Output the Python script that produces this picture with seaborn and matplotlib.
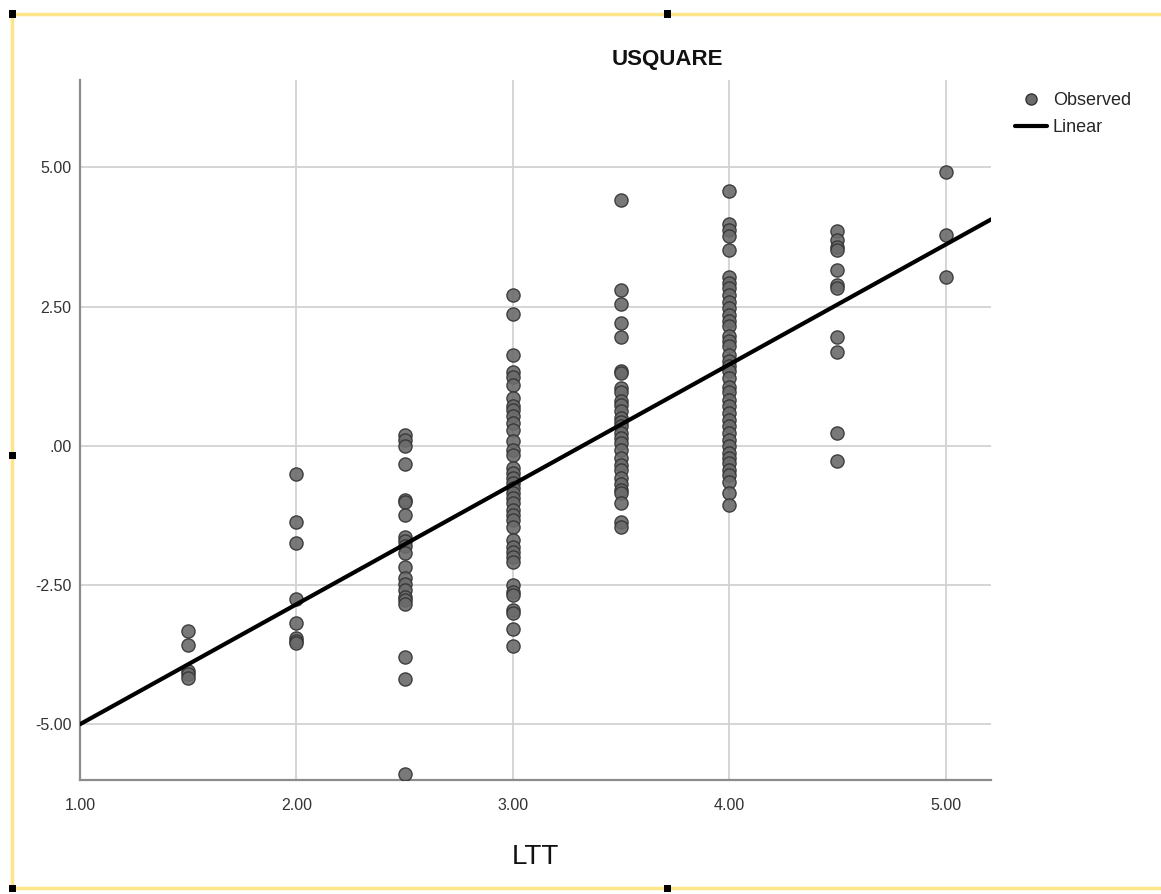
""" Recreate SPSS-style curve fit scatter: USQUARE vs LTT """

import numpy as np
import pandas as pd
import seaborn as sns
import matplotlib.pyplot as plt
from matplotlib.lines import Line2D
from matplotlib.patches import Rectangle

# Data (one list per LTT level)
ltt_levels = [1.5, 2.0, 2.5, 3.0, 3.5, 4.0, 4.5, 5.0]
usquare_by_level = [
    [-3.32, -3.57, -4.05, -4.09, -4.17],
    [-0.51, -1.36, -1.75, -2.75, -3.18, -3.45, -3.50, -3.54],
    [0.20, 0.10, 0.00, -0.33, -0.97, -1.00, -1.24, -1.63, -1.70, -1.79,
     -1.92, -2.17, -2.37, -2.48, -2.58, -2.71, -2.77, -2.84, -3.79, -4.19, -5.89],
    [2.71, 2.36, 1.63, 1.33, 1.24, 1.09, 0.86, 0.71, 0.65, 0.53, 0.41, 0.29,
     0.08, -0.07, -0.16, -0.40, -0.49, -0.58, -0.67, -0.76, -0.85, -0.94,
     -1.03, -1.15, -1.24, -1.33, -1.45, -1.69, -1.81, -1.90, -1.99, -2.08,
     -2.50, -2.62, -2.68, -2.94, -3.00, -3.29, -3.59],
    [4.42, 2.80, 2.55, 2.20, 1.96, 1.35, 1.30, 1.04, 0.97, 0.80, 0.74, 0.62,
     0.50, 0.42, 0.35, 0.24, 0.15, 0.05, -0.07, -0.22, -0.34, -0.43, -0.58,
     -0.69, -0.79, -0.85, -1.03, -1.37, -1.45],
    [4.58, 3.99, 3.88, 3.77, 3.52, 3.03, 2.92, 2.83, 2.71, 2.59, 2.47, 2.35,
     2.24, 2.15, 1.97, 1.88, 1.79, 1.64, 1.52, 1.43, 1.34, 1.22, 1.06, 0.97,
     0.83, 0.71, 0.59, 0.47, 0.35, 0.23, 0.11, -0.01, -0.13, -0.22, -0.31,
     -0.43, -0.52, -0.64, -0.85, -1.06],
    [3.85, 3.70, 3.58, 3.52, 3.16, 2.89, 2.83, 1.96, 1.69, 0.23, -0.28],
    [4.91, 3.79, 3.03],
]
x_ticks = [1.0, 2.0, 3.0, 4.0, 5.0]
y_ticks = [-5.0, -2.5, 0.0, 2.5, 5.0]


def fmt(v):
    """ SPSS style number: .00 instead of 0.00 """
    s = f"{v:.2f}"
    return ".00" if s in ("0.00", "-0.00") else s


def plot(df):
    """ Scatter with linear fit """
    fig = plt.figure(figsize=(11.61, 8.94), dpi=100)
    ax = fig.add_axes([0.0689, 0.1275, 0.7847, 0.783])
    ax.set_xlim(1.0, 5.21)
    ax.set_ylim(-6.0, 6.57)

    # grid
    for t in x_ticks:
        ax.axvline(t, color="#d2d2d2", lw=1.3, zorder=0)
    for t in y_ticks:
        ax.axhline(t, color="#d2d2d2", lw=1.3, zorder=0)

    sns.regplot(x="LTT", y="USQUARE", data=df, ax=ax, ci=None, truncate=False,
                scatter_kws=dict(s=90, color="#6b6b6b", edgecolors="#333333",
                                 linewidths=1.0, alpha=0.9, zorder=3),
                line_kws=dict(color="black", lw=3, zorder=4))

    ax.set_xticks(x_ticks)
    ax.set_xticklabels([fmt(v) for v in x_ticks])
    ax.set_yticks(y_ticks)
    ax.set_yticklabels([fmt(v) for v in y_ticks])
    ax.tick_params(length=0, labelsize=11.5, labelcolor="#333333")
    ax.tick_params(axis="x", pad=13)
    ax.tick_params(axis="y", pad=6)
    for side in ("top", "right"):
        ax.spines[side].set_visible(False)
    for side in ("left", "bottom"):
        ax.spines[side].set_color("#8c8c8c")
        ax.spines[side].set_linewidth(1.6)
    ax.set_ylabel("")
    ax.set_xlabel("LTT", fontsize=20, labelpad=22, color="#111111")

    fig.text(0.5745, 0.933, "USQUARE", ha="center", va="center",
             fontsize=16, fontweight="bold", color="#111111")

    handles = [
        Line2D([], [], marker="o", ls="none", markersize=8, color="#6b6b6b",
               markeredgecolor="#333333"),
        Line2D([], [], color="black", lw=3),
    ]
    fig.legend(handles, ["Observed", "Linear"], loc="upper left",
               bbox_to_anchor=(0.868, 0.905), frameon=False, fontsize=13,
               handlelength=1.8, handletextpad=0.3, labelspacing=0.55,
               borderaxespad=0)

    # SPSS editor frame with selection handles
    yellow = "#fde58a"
    fig.add_artist(Line2D([0.0103, 1.0], [0.984, 0.984], color=yellow, lw=2.5,
                          transform=fig.transFigure, zorder=1))
    fig.add_artist(Line2D([0.0103, 1.0], [0.0067, 0.0067], color=yellow, lw=2.5,
                          transform=fig.transFigure, zorder=1))
    fig.add_artist(Line2D([0.0103, 0.0103], [0.0067, 0.984], color=yellow, lw=2.5,
                          transform=fig.transFigure, zorder=1))
    for hx, hy in [(12, 14), (667, 14), (12, 455), (667, 888), (12, 888)]:
        fig.add_artist(Rectangle(((hx - 3.5) / 1161, 1 - (hy + 3.5) / 894),
                                 7 / 1161, 7 / 894, facecolor="black",
                                 edgecolor="none", transform=fig.transFigure,
                                 zorder=5))

    fig.savefig("out.png", dpi=100)


if __name__ == "__main__":
    sns.set_style("white")
    plt.rcParams["font.family"] = ["Liberation Sans", "DejaVu Sans"]
    xs, ys = [], []
    for lvl, vals in zip(ltt_levels, usquare_by_level):
        xs += [lvl] * len(vals)
        ys += vals
    data = pd.DataFrame({"LTT": xs, "USQUARE": ys})
    plot(data)
